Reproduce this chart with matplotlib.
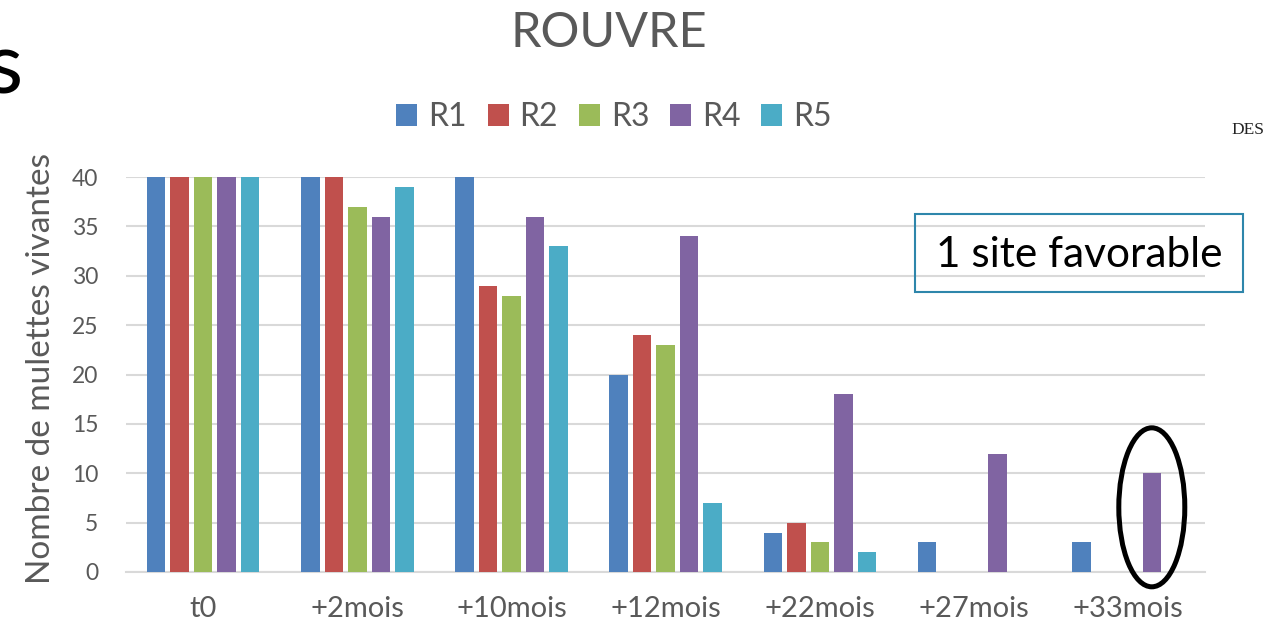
import matplotlib
matplotlib.use("Agg")
import matplotlib.pyplot as plt
from matplotlib.patches import Ellipse, Rectangle, Patch
import numpy as np

categories = ["t0", "+2mois", "+10mois", "+12mois", "+22mois", "+27mois", "+33mois"]
series_names = ["R1", "R2", "R3", "R4", "R5"]
R1 = [40, 40, 40, 20, 4, 3, 3]
R2 = [40, 40, 29, 24, 5, 0, 0]
R3 = [40, 37, 28, 23, 3, 0, 0]
R4 = [40, 36, 36, 34, 18, 12, 10]
R5 = [40, 39, 33, 7, 2, 0, 0]
yticks = [0, 5, 10, 15, 20, 25, 30, 35, 40]

colors = ["#4F81BD", "#C0504D", "#9BBB59", "#8064A2", "#4BACC6"]
series = [R1, R2, R3, R4, R5]

plt.rcParams['font.family'] = ['Lato', 'DejaVu Sans']
W, H = 1264, 624
fig = plt.figure(figsize=(W / 100, H / 100), dpi=100)
fig.patch.set_facecolor("white")

axw = 1205.4 - 126
ax = fig.add_axes([126 / W, 1 - 572 / H, axw / W, (572 - 177) / H])
x = np.arange(len(categories))
step = 0.1524
bw = 0.12
for j, (vals, c) in enumerate(zip(series, colors)):
    ax.bar(x + (j - 2) * step, vals, width=bw, color=c, linewidth=0, zorder=3)

ax.set_xlim(-0.5, len(categories) - 0.5)
ax.set_ylim(0, 40)
ax.set_yticks(yticks)
ax.set_xticks(x)
ax.set_xticklabels(categories)
ax.yaxis.grid(True, color="#D9D9D9", linewidth=1.5, zorder=0)
ax.set_axisbelow(True)
for s in ["top", "right", "left"]:
    ax.spines[s].set_visible(False)
ax.spines["bottom"].set_color("#D9D9D9")
ax.spines["bottom"].set_linewidth(1.5)
ax.tick_params(axis="both", length=0, colors="#595959")
ax.tick_params(axis="y", labelsize=16.5, pad=20)
ax.tick_params(axis="x", labelsize=21, pad=17.5)
ax.set_ylabel("Nombre de mulettes vivantes", fontsize=24, color="#595959")
ax.yaxis.set_label_coords(-70 / axw, (572 - 368) / 395)

# ellipse around last R4 bar
ex = x[-1] + (3 - 2) * step
ell = Ellipse((ex, R4[-1] * 0.655), width=0.428, height=16.1, fill=False,
              edgecolor="black", linewidth=3.6, clip_on=False, zorder=5)
ax.add_patch(ell)

# title
fig.text(609 / W, 1 - 33 / H, "ROUVRE", fontsize=35, color="#595959", ha="center", va="center")

# legend
handles = [Patch(facecolor=c, edgecolor="none") for c in colors]
fig.legend(handles, series_names, loc="center", bbox_to_anchor=(614 / W, 1 - 117 / H), ncol=5,
           frameon=False, fontsize=23, handlelength=0.66, handleheight=0.66,
           handletextpad=0.34, columnspacing=0.65, labelcolor="#595959")

# text box
fig.patches.append(Rectangle((915 / W, 1 - 292 / H), (1243 - 915) / W, (292 - 214) / H,
                             transform=fig.transFigure, fill=False, edgecolor="#2E86AB",
                             linewidth=1.5, zorder=6))
fig.text(1079 / W, 1 - 255 / H, "1 site favorable", fontsize=30.5, color="black",
         ha="center", va="center", zorder=7)

# slide fragments
fig.text(-0.012, 1 - 70 / H, "s", fontsize=62, color="black", ha="left", va="center")
fig.text(1231 / W, 1 - 130 / H, "DES", fontsize=12.5, color="#222222",
         family=["Liberation Serif", "DejaVu Serif"], ha="left", va="center")

fig.savefig("out.png", dpi=100, facecolor="white")
